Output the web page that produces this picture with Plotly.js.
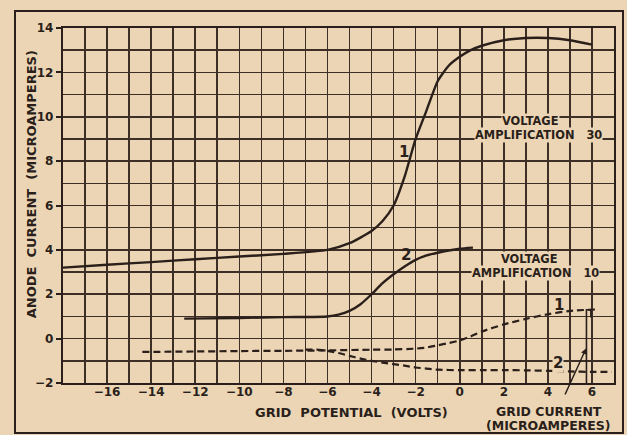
<!DOCTYPE html>
<html>
<head>
<meta charset="utf-8">
<script src="https://cdn.plot.ly/plotly-3.0.1.min.js"></script>
<style>
  html, body { margin: 0; padding: 0; background: #ecd5b4; }
  #wrap { position: relative; width: 627px; height: 435px; }
  #chart { width: 627px; height: 435px; }
  #frame { position: absolute; left: 14px; top: 10px; width: 606px; height: 420px;
           border: 2px solid #2a1f1a; pointer-events: none; }
</style>
</head>
<body>
<div id="wrap">
  <div id="chart"></div>
  <div id="frame"></div>
</div>
<script>
// ---- data ----
// Anode current, voltage amplification 30 (curve 1)
const va30X = [-18, -16, -14, -12, -10, -8, -6, -5, -4, -3.5, -3, -2.5, -2, -1.5, -1, -0.5, 0, 0.5, 1, 2, 3, 4, 5, 6];
const va30Y = [3.2, 3.33, 3.45, 3.58, 3.7, 3.82, 4.0, 4.3, 4.85, 5.3, 6.0, 7.3, 9.0, 10.3, 11.6, 12.3, 12.7, 13.0, 13.2, 13.45, 13.55, 13.55, 13.45, 13.25];
// Anode current, voltage amplification 10 (curve 2)
const va10X = [-12.5, -10, -8, -6, -5.5, -5, -4.5, -4, -3.5, -3, -2.5, -2, -1.5, -1, -0.5, 0, 0.6];
const va10Y = [0.9, 0.93, 0.97, 1.0, 1.08, 1.25, 1.55, 2.0, 2.5, 2.9, 3.25, 3.55, 3.75, 3.87, 3.97, 4.05, 4.1];
// Grid current (dashed), curve 1
const gc1X = [-14.4, -12, -10, -8, -6, -4, -3, -2, -1.5, -1, -0.5, 0, 0.5, 1, 2, 3, 4, 5, 6.3];
const gc1Y = [-0.6, -0.58, -0.56, -0.55, -0.53, -0.5, -0.49, -0.45, -0.4, -0.3, -0.2, -0.08, 0.1, 0.32, 0.64, 0.89, 1.1, 1.25, 1.32];
// Grid current (dashed), curve 2
const gc2X = [-7, -6.5, -6, -5.5, -5, -4.5, -4, -3.5, -3, -2.5, -2, -1.5, -1, 0, 1, 2, 3, 4, 5, 6, 6.9];
const gc2Y = [-0.5, -0.5, -0.55, -0.65, -0.78, -0.9, -1.0, -1.08, -1.15, -1.22, -1.3, -1.35, -1.4, -1.42, -1.42, -1.42, -1.43, -1.45, -1.48, -1.5, -1.5];
// small bracket marker near +6 V
const markX = [5.75, 5.75, 5.95, 5.95];
const markY = [-2, 1.3, 1.3, 0.95];

// tick labels
const xTickVals = [-16, -14, -12, -10, -8, -6, -4, -2, 0, 2, 4, 6];
const xTickText = ['\u221216', '\u221214', '\u221212', '\u221210', '\u22128', '\u22126', '\u22124', '\u22122', '0', '2', '4', '6'];
const yTickVals = [-2, 0, 2, 4, 6, 8, 10, 12, 14];
const yTickText = ['\u22122', '0', '2', '4', '6', '8', '10', '12', '14'];

// ---- styling ----
const ink = '#2a1f1a';
const gridInk = '#3d2e26';
const paper = '#ecd5b4';
const fnt = 'DejaVu Sans, Liberation Sans, sans-serif';

const traces = [
  {x: va30X, y: va30Y, mode: 'lines', line: {color: ink, width: 2.4, shape: 'spline', smoothing: 0.6}, hoverinfo: 'skip'},
  {x: va10X, y: va10Y, mode: 'lines', line: {color: ink, width: 2.4, shape: 'spline', smoothing: 0.6}, hoverinfo: 'skip'},
  {x: gc1X, y: gc1Y, mode: 'lines', line: {color: ink, width: 2.2, dash: '7px,4px', shape: 'spline', smoothing: 0.6}, hoverinfo: 'skip'},
  {x: gc2X, y: gc2Y, mode: 'lines', line: {color: ink, width: 2.2, dash: '7px,4px', shape: 'spline', smoothing: 0.6}, hoverinfo: 'skip'},
  {x: markX, y: markY, mode: 'lines', line: {color: ink, width: 1.6}, hoverinfo: 'skip'}
];

const axisCommon = {
  showgrid: true, gridcolor: gridInk, gridwidth: 1.6,
  zeroline: false, showline: true, mirror: true, linecolor: ink, linewidth: 2.2,
  tickmode: 'array', fixedrange: true,
  tickfont: {family: fnt, size: 12, color: ink, weight: 'bold'},
  minor: {dtick: 1, tick0: 0, showgrid: true, gridcolor: gridInk, gridwidth: 1.6, ticks: ''}
};

const titleFont = {family: fnt, size: 13, color: ink, weight: 'bold'};
const smallFont = {family: fnt, size: 12.5, color: ink, weight: 'bold'};
const vaFont = {family: fnt, size: 11.4, color: ink, weight: 'bold'};
const numFont = {family: fnt, size: 15, color: ink, weight: 'bold'};

function note(o) {
  return Object.assign({showarrow: false, xanchor: 'center', yanchor: 'middle'}, o);
}

const layout = {
  width: 627, height: 435,
  margin: {l: 63, r: 13, t: 28, b: 52, pad: 0},
  paper_bgcolor: paper, plot_bgcolor: paper,
  showlegend: false,
  xaxis: Object.assign({}, axisCommon, {range: [-18, 7], tickvals: xTickVals, ticktext: xTickText, ticks: '', ticklabelstandoff: -4}),
  yaxis: Object.assign({}, axisCommon, {range: [-2, 14], tickvals: yTickVals, ticktext: yTickText, ticks: 'outside', ticklen: 5, tickwidth: 2, tickcolor: ink, ticklabelstandoff: 0}),
  annotations: [
    note({xref: 'paper', yref: 'paper', x: -0.058, y: 0.56, text: 'ANODE&nbsp;&nbsp;CURRENT&nbsp;&nbsp;(MICROAMPERES)', textangle: -90, font: titleFont}),
    note({xref: 'paper', yref: 'paper', x: 0.5245, y: -0.0845, text: 'GRID&nbsp;&nbsp;POTENTIAL&nbsp;&nbsp;(VOLTS)', font: titleFont}),
    note({xref: 'paper', yref: 'paper', x: 0.882, y: -0.079, text: 'GRID&nbsp;CURRENT', font: smallFont}),
    note({xref: 'paper', yref: 'paper', x: 0.882, y: -0.119, text: '(MICROAMPERES)', font: smallFont}),
    note({x: 3.2, y: 9.8, text: 'VOLTAGE', font: vaFont, bgcolor: paper, borderpad: 0}),
    note({x: 3.57, y: 9.18, text: 'AMPLIFICATION&nbsp;&nbsp;&nbsp;30', font: vaFont, bgcolor: paper, borderpad: 0}),
    note({x: 3.18, y: 3.6, text: 'VOLTAGE', font: vaFont, bgcolor: paper, borderpad: 0}),
    note({x: 3.45, y: 2.98, text: 'AMPLIFICATION&nbsp;&nbsp;&nbsp;10', font: vaFont, bgcolor: paper, borderpad: 0}),
    note({x: -2.55, y: 8.43, text: '1', font: numFont}),
    note({x: -2.45, y: 3.76, text: '2', font: numFont}),
    note({x: 4.5, y: 1.5, text: '1', font: numFont}),
    note({x: 4.45, y: -1.08, text: '2', font: numFont, bgcolor: paper, borderpad: 0}),
    {x: 5.73, y: -0.45, ax: 4.75, ay: -2.58, axref: 'x', ayref: 'y', text: '', showarrow: true, arrowhead: 2, arrowsize: 0.8, arrowwidth: 1.4, arrowcolor: ink}
  ]
};

Plotly.newPlot('chart', traces, layout, {displayModeBar: false, staticPlot: true});
</script>
</body>
</html>
